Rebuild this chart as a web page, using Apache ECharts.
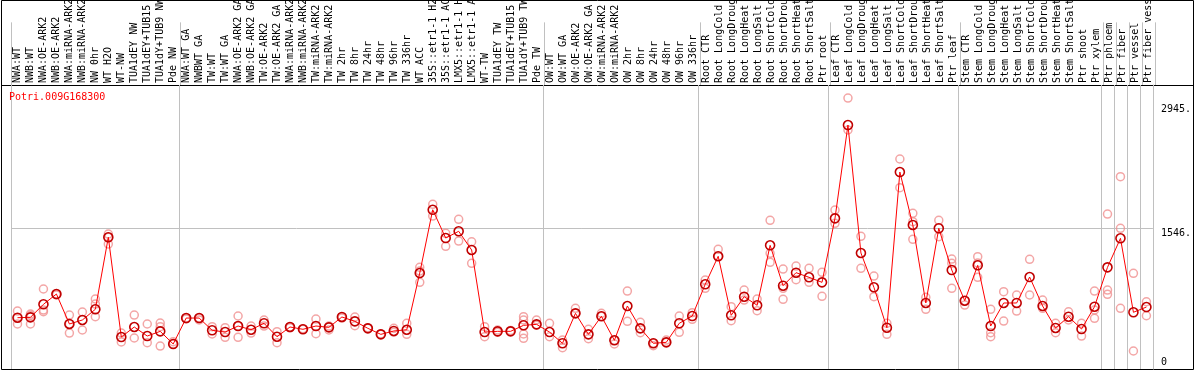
<!DOCTYPE html>
<html>
<head>
  <meta charset="UTF-8">
  <title>Potri.009G168300</title>
  <style>
    body { margin: 0; background: #fff; }
    #chart { width: 1194px; height: 370px; }
  </style>
  <script src="https://cdn.jsdelivr.net/npm/echarts@6/dist/echarts.min.js"></script>
</head>
<body>
  <div id="chart"></div>
  <script>
    var geneName = 'Potri.009G168300';

    var samples = [
      'NWA:WT', 'NWB:WT', 'NWA:OE-ARK2', 'NWB:OE-ARK2', 'NWA:miRNA-ARK2', 'NWB:miRNA-ARK2',
      'NW 0hr', 'WT H2O', 'WT-NW', 'TUA1dEY NW', 'TUA1dEY+TUB15 NW', 'TUA1dY+TUB9 NW', 'Pde NW',
      'NWA:WT GA', 'NWBWT GA', 'TW:WT', 'TW:WT GA', 'NWA:OE-ARK2 GA', 'NWB:OE-ARK2 GA',
      'TW:OE-ARK2', 'TW:OE-ARK2 GA', 'NWA:miRNA-ARK2', 'NWB:miRNA-ARK2', 'TW:miRNA-ARK2',
      'TW:miRNA-ARK2', 'TW 2hr', 'TW 8hr', 'TW 24hr', 'TW 48hr', 'TW 96hr', 'TW 336hr', 'WT ACC',
      '35S::etr1-1 H2O', '35S::etr1-1 ACC', 'LMX5::etr1-1 H2O', 'LMX5::etr1-1 ACC', 'WT-TW',
      'TUA1dEY TW', 'TUA1dEY+TUB15 TW', 'TUA1dY+TUB9 TW', 'Pde TW',
      'OW:WT', 'OW:WT GA', 'OW:OE-ARK2', 'OW:OE-ARK2 GA', 'OW:miRNA-ARK2', 'OW:miRNA-ARK2',
      'OW 2hr', 'OW 8hr', 'OW 24hr', 'OW 48hr', 'OW 96hr', 'OW 336hr',
      'Root CTR', 'Root LongCold', 'Root LongDrought', 'Root LongHeat', 'Root LongSalt',
      'Root ShortCold', 'Root ShortDrought', 'Root ShortHeat', 'Root ShortSalt', 'Ptr root',
      'Leaf CTR', 'Leaf LongCold', 'Leaf LongDrought', 'Leaf LongHeat', 'Leaf LongSalt',
      'Leaf ShortCold', 'Leaf ShortDrought', 'Leaf ShortHeat', 'Leaf ShortSalt', 'Ptr leaf',
      'Stem CTR', 'Stem LongCold', 'Stem LongDrought', 'Stem LongHeat', 'Stem LongSalt',
      'Stem ShortCold', 'Stem ShortDrought', 'Stem ShortHeat', 'Stem ShortSalt', 'Ptr shoot',
      'Ptr xylem', 'Ptr phloem', 'Ptr fiber', 'Ptr vessel', 'Ptr fiber vessel'
    ];

    // mean expression per sample
    var means = [
      534, 538, 685, 801, 463, 508, 629, 1441, 316, 429, 327, 380, 237,
      530, 530, 392, 372, 440, 398, 471, 319, 429, 403, 440, 425, 542, 493, 414, 346, 384, 398,
      1038, 1752, 1433, 1509, 1298, 372, 380, 380, 448, 459,
      372, 245, 583, 346, 550, 279, 666, 414, 245, 256, 471, 553,
      911, 1227, 561, 771, 674, 1351, 895, 1042, 990, 933,
      1655, 2708, 1264, 877, 421, 2178, 1580, 700, 1543, 1072,
      726, 1125, 440, 700, 700, 993, 666, 418, 545, 406, 658,
      1102, 1430, 595, 654
    ];

    // single replicates per sample
    var replicates = [
      [609, 463, 534], [575, 463, 560], [858, 601, 620], [801, 790], [564, 361, 463],
      [598, 395], [745, 688, 545], [1478, 1365, 1441], [361, 260], [564, 305],
      [463, 252], [474, 432, 214], [263, 237],
      [530, 520], [508, 530], [432, 350], [421, 313], [553, 313, 440], [440, 361],
      [508, 440], [376, 252], [429, 420], [403, 410], [519, 353], [395, 440],
      [542, 530], [542, 443], [414, 420], [346, 350], [414, 370], [471, 346],
      [1102, 933, 1060], [1813, 1681], [1486, 1339], [1644, 1399], [1391, 1148],
      [432, 319], [395, 370], [380, 390], [545, 508, 350, 301], [508, 450],
      [471, 319], [195, 282], [640, 583], [403, 297], [583, 550], [237, 279],
      [835, 493], [482, 364], [218, 245], [282, 256], [553, 369], [590, 516],
      [959, 865], [1306, 1227], [658, 500], [846, 733], [745, 613],
      [1633, 1260, 1159], [1083, 741, 865], [1117, 963], [1091, 933], [1046, 775],
      [1749, 1599], [3013, 2652], [1452, 1091], [1004, 771], [471, 346],
      [2325, 2001], [1712, 1418, 1617], [629, 764], [1633, 1448], [1196, 1148, 865],
      [677, 726], [1222, 990, 1150], [629, 364, 319], [827, 496], [790, 609],
      [1193, 790], [733, 640], [471, 364], [601, 508], [471, 327], [835, 527, 621],
      [1704, 846, 798], [2125, 1543, 640], [1035, 158], [714, 556]
    ];

    // first sample index of each tissue group
    var groupStarts = [0, 13, 41, 53, 63, 73, 84, 85, 86, 87];
    var yTicks = [1546, 2945];
    var yTickText = ['1546.', '2945.'];
    var gridValue = 1546;

    var mono = 'DejaVu Sans Mono';
    var sepColor = '#c0c0c0';

    var repPoints = [];
    replicates.forEach(function (list, i) {
      list.forEach(function (v) {
        repPoints.push([i, v]);
      });
    });

    function isGroupStart(index) {
      return groupStarts.indexOf(index) >= 0;
    }

    var myChart = echarts.init(document.getElementById('chart'));
    var option = {
      animation: false,
      backgroundColor: '#fff',
      title: {
        text: geneName,
        left: 9,
        top: 92,
        padding: 0,
        textStyle: { color: '#ff0000', fontFamily: mono, fontSize: 10, fontWeight: 'normal' }
      },
      grid: [
        { left: 11, right: 39, top: 0, height: 85 },
        { left: 11, right: 39, top: 85, bottom: 1 }
      ],
      xAxis: [{
        type: 'category',
        gridIndex: 0,
        data: samples,
        position: 'bottom',
        axisLine: { show: false },
        axisTick: { show: false },
        axisLabel: {
          inside: true,
          rotate: 90,
          interval: 0,
          margin: 2,
          color: '#000',
          fontFamily: mono,
          fontSize: 10
        },
        splitLine: { show: true, interval: isGroupStart, lineStyle: { color: sepColor, width: 1 } }
      }, {
        type: 'category',
        gridIndex: 1,
        data: samples,
        axisLine: { show: false },
        axisTick: { show: false },
        axisLabel: { show: false },
        splitLine: { show: true, interval: isGroupStart, lineStyle: { color: sepColor, width: 1 } }
      }],
      yAxis: [{
        type: 'value',
        gridIndex: 0,
        min: 0,
        max: 1,
        show: false
      }, {
        type: 'value',
        gridIndex: 1,
        position: 'right',
        min: -45,
        max: 3160,
        axisLine: { show: true, lineStyle: { color: sepColor } },
        axisTick: { show: false },
        splitLine: { show: false },
        axisLabel: {
          customValues: yTicks,
          formatter: function (v) {
            return yTickText[yTicks.indexOf(v)];
          },
          margin: 8,
          verticalAlign: 'top',
          color: '#000',
          fontFamily: mono,
          fontSize: 10
        }
      }, {
        type: 'value',
        gridIndex: 1,
        position: 'right',
        min: -45,
        max: 3160,
        axisLine: { show: false },
        axisTick: { show: false },
        splitLine: { show: false },
        axisLabel: {
          customValues: [0],
          margin: 8,
          verticalAlign: 'bottom',
          lineHeight: 6,
          color: '#000',
          fontFamily: mono,
          fontSize: 10
        }
      }],
      series: [{
        type: 'scatter',
        name: 'replicates',
        xAxisIndex: 1,
        yAxisIndex: 1,
        data: repPoints,
        symbol: 'circle',
        symbolSize: 8,
        itemStyle: { color: 'rgba(0,0,0,0)', borderColor: '#f09090', borderWidth: 1.5 },
        z: 2
      }, {
        type: 'line',
        name: 'mean',
        xAxisIndex: 1,
        yAxisIndex: 1,
        data: means,
        symbol: 'circle',
        symbolSize: 9,
        showAllSymbol: true,
        lineStyle: { color: '#ff0000', width: 1 },
        itemStyle: { color: 'rgba(0,0,0,0)', borderColor: '#c00000', borderWidth: 1.6 },
        markLine: {
          silent: true,
          symbol: 'none',
          label: { show: false },
          lineStyle: { color: sepColor, type: 'solid', width: 1 },
          data: [{ yAxis: gridValue }],
          z: 1
        },
        z: 3
      }],
      graphic: [{
        type: 'rect',
        shape: { x: 1.5, y: 0.5, width: 1192, height: 369 },
        style: { fill: 'none', stroke: '#000', lineWidth: 1 },
        silent: true
      }, {
        type: 'line',
        shape: { x1: 1, y1: 85.5, x2: 1194, y2: 85.5 },
        style: { stroke: '#000', lineWidth: 1 },
        silent: true
      }]
    };
    myChart.setOption(option);
  </script>
</body>
</html>
